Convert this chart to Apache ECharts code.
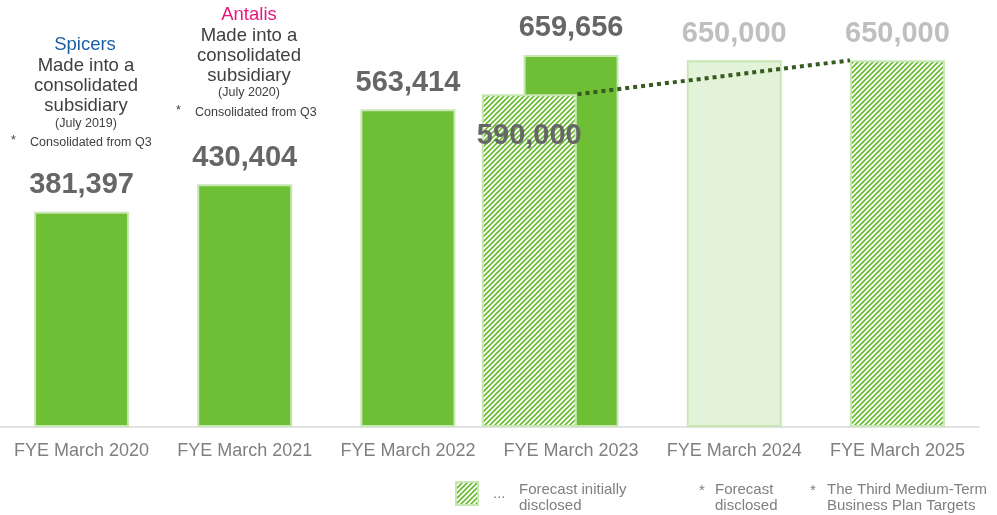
<!DOCTYPE html>
<html>
<head>
<meta charset="utf-8">
<script src="https://cdn.jsdelivr.net/npm/echarts@6/dist/echarts.min.js"></script>
<style>
html,body{margin:0;padding:0;background:#fff;}
#chart{width:997px;height:515px;}
</style>
</head>
<body>
<div id="chart"></div>
<script>
// ---- data ----
const categories = ['FYE March 2020', 'FYE March 2021', 'FYE March 2022', 'FYE March 2023', 'FYE March 2024', 'FYE March 2025'];
const actualValues = [381397, 430404, 563414, 659656, null, null];
const initialForecast = [null, null, null, 590000, null, null];
const disclosedForecast = [null, null, null, null, 650000, null];
const planTargets = [null, null, null, null, null, 650000];
const trendFrom = [3, 590000];
const trendTo = [5, 650000];

// ---- styles ----
const FONT = '"Liberation Sans", Arial, sans-serif';
const GREEN = '#6fbf36';
const BORDER = '#c7e8b5';
const LIGHT = '#e2f3d9';
const BAR_W = 95;

const pc = document.createElement('canvas');
pc.width = 5; pc.height = 5;
const g = pc.getContext('2d');
g.fillStyle = '#ffffff'; g.fillRect(0, 0, 5, 5);
g.strokeStyle = '#66bb2c'; g.lineWidth = 1.6;
g.beginPath();
g.moveTo(0, 5); g.lineTo(5, 0);
g.moveTo(-1, 1); g.lineTo(1, -1);
g.moveTo(4, 6); g.lineTo(6, 4);
g.stroke();
const hatch = { image: pc, repeat: 'repeat' };

const fmt = v => v.toLocaleString('en-US');

const mainData = categories.map((c, i) => {
  if (actualValues[i] != null) {
    return { value: actualValues[i], itemStyle: { color: GREEN } };
  }
  if (disclosedForecast[i] != null) {
    return { value: disclosedForecast[i], itemStyle: { color: LIGHT }, label: { color: '#bfbfbf' } };
  }
  return { value: planTargets[i], itemStyle: { color: hatch }, label: { color: '#bfbfbf' } };
});

const chart = echarts.init(document.getElementById('chart'), null, { renderer: 'canvas' });

let gid = 0;
function ctext(cx, cy, text, size, color) {
  return { id: 'g' + (gid++), type: 'text', x: cx, y: cy, style: { text, fontSize: size, fill: color, fontFamily: FONT, align: 'center', verticalAlign: 'middle' } };
}
function ltext(lx, cy, text, size, color) {
  return { id: 'g' + (gid++), type: 'text', x: lx, y: cy, style: { text, fontSize: size, fill: color, fontFamily: FONT, align: 'left', verticalAlign: 'middle' } };
}

const DARK = '#404040';
const graphics = [
  ctext(85, 45, 'Spicers', 18.5, '#1b5fa6'),
  ctext(86, 66, 'Made into a', 18.5, DARK),
  ctext(86, 86, 'consolidated', 18.5, DARK),
  ctext(86, 106, 'subsidiary', 18.5, DARK),
  ctext(86, 124, '(July 2019)', 12.5, DARK),
  ltext(11, 141, '*', 12.5, DARK),
  ltext(30, 143, 'Consolidated from Q3', 12.5, DARK),

  ctext(249, 15, 'Antalis', 18.5, '#e8167c'),
  ctext(249, 36, 'Made into a', 18.5, DARK),
  ctext(249, 56, 'consolidated', 18.5, DARK),
  ctext(249, 76, 'subsidiary', 18.5, DARK),
  ctext(249, 93, '(July 2020)', 12.5, DARK),
  ltext(176, 111, '*', 12.5, DARK),
  ltext(195, 113, 'Consolidated from Q3', 12.5, DARK),

  { id: 'legendBox', type: 'rect', shape: { x: 456, y: 482, width: 22, height: 23 }, style: { fill: hatch, stroke: BORDER, lineWidth: 2 } },
  ltext(493, 494, '...', 15, '#7f7f7f'),
  ltext(519, 490, 'Forecast initially', 15, '#7f7f7f'),
  ltext(519, 506, 'disclosed', 15, '#7f7f7f'),
  ltext(699, 491, '*', 15, '#7f7f7f'),
  ltext(715, 490, 'Forecast', 15, '#7f7f7f'),
  ltext(715, 506, 'disclosed', 15, '#7f7f7f'),
  ltext(810, 491, '*', 15, '#7f7f7f'),
  ltext(827, 490, 'The Third Medium-Term', 15, '#7f7f7f'),
  ltext(827, 506, 'Business Plan Targets', 15, '#7f7f7f')
];

const option = {
  animation: false,
  backgroundColor: '#ffffff',
  grid: { left: -1, right: 18, top: 0, bottom: 88, containLabel: false },
  xAxis: [
    {
      type: 'category', data: categories,
      axisLine: { lineStyle: { color: '#d9d9d9', width: 1.5 } },
      axisTick: { show: false },
      axisLabel: { color: '#7f7f7f', fontSize: 18, fontFamily: FONT, margin: 15, interval: 0 }
    },
    { type: 'category', data: categories, show: false }
  ],
  yAxis: { type: 'value', min: 0, max: 757000, show: false, splitLine: { show: false } },
  series: [
    {
      name: 'main', type: 'bar', xAxisIndex: 0, data: mainData, barWidth: BAR_W,
      itemStyle: { borderColor: BORDER, borderWidth: 2 },
      label: { show: true, position: 'top', distance: 12, fontSize: 29, fontWeight: 'bold', color: '#666666', fontFamily: FONT, formatter: p => fmt(p.value) },
      z: 2
    },
    {
      name: 'initial', type: 'bar', xAxisIndex: 1, data: initialForecast, barWidth: BAR_W, barGap: '-12%',
      itemStyle: { color: hatch, borderColor: BORDER, borderWidth: 2 },
      label: { show: true, position: 'insideTop', distance: 27, fontSize: 29, fontWeight: 'bold', color: '#666666', fontFamily: FONT, formatter: p => fmt(p.value) },
      z: 3
    },
    {
      name: 'dummy', type: 'bar', xAxisIndex: 1, data: categories.map(() => null), barWidth: BAR_W, barGap: '-12%', silent: true
    },
    {
      name: 'trend', type: 'custom', xAxisIndex: 0, z: 5,
      dimensions: ['x1', 'y1', 'x2', 'y2'],
      encode: { x: [0, 2], y: [1, 3] },
      data: [[trendFrom[0], trendFrom[1], trendTo[0], trendTo[1]]],
      renderItem: (params, api) => {
        const p1 = api.coord([api.value(0), api.value(1)]);
        const p2 = api.coord([api.value(2), api.value(3)]);
        return {
          type: 'line',
          shape: { x1: p1[0] + 6.5, y1: p1[1], x2: p2[0] - 47.5, y2: p2[1] },
          style: { stroke: '#375a1f', lineWidth: 4, lineDash: [4, 4] }
        };
      }
    }
  ],
  graphic: graphics
};
chart.setOption(option);
</script>
</body>
</html>
